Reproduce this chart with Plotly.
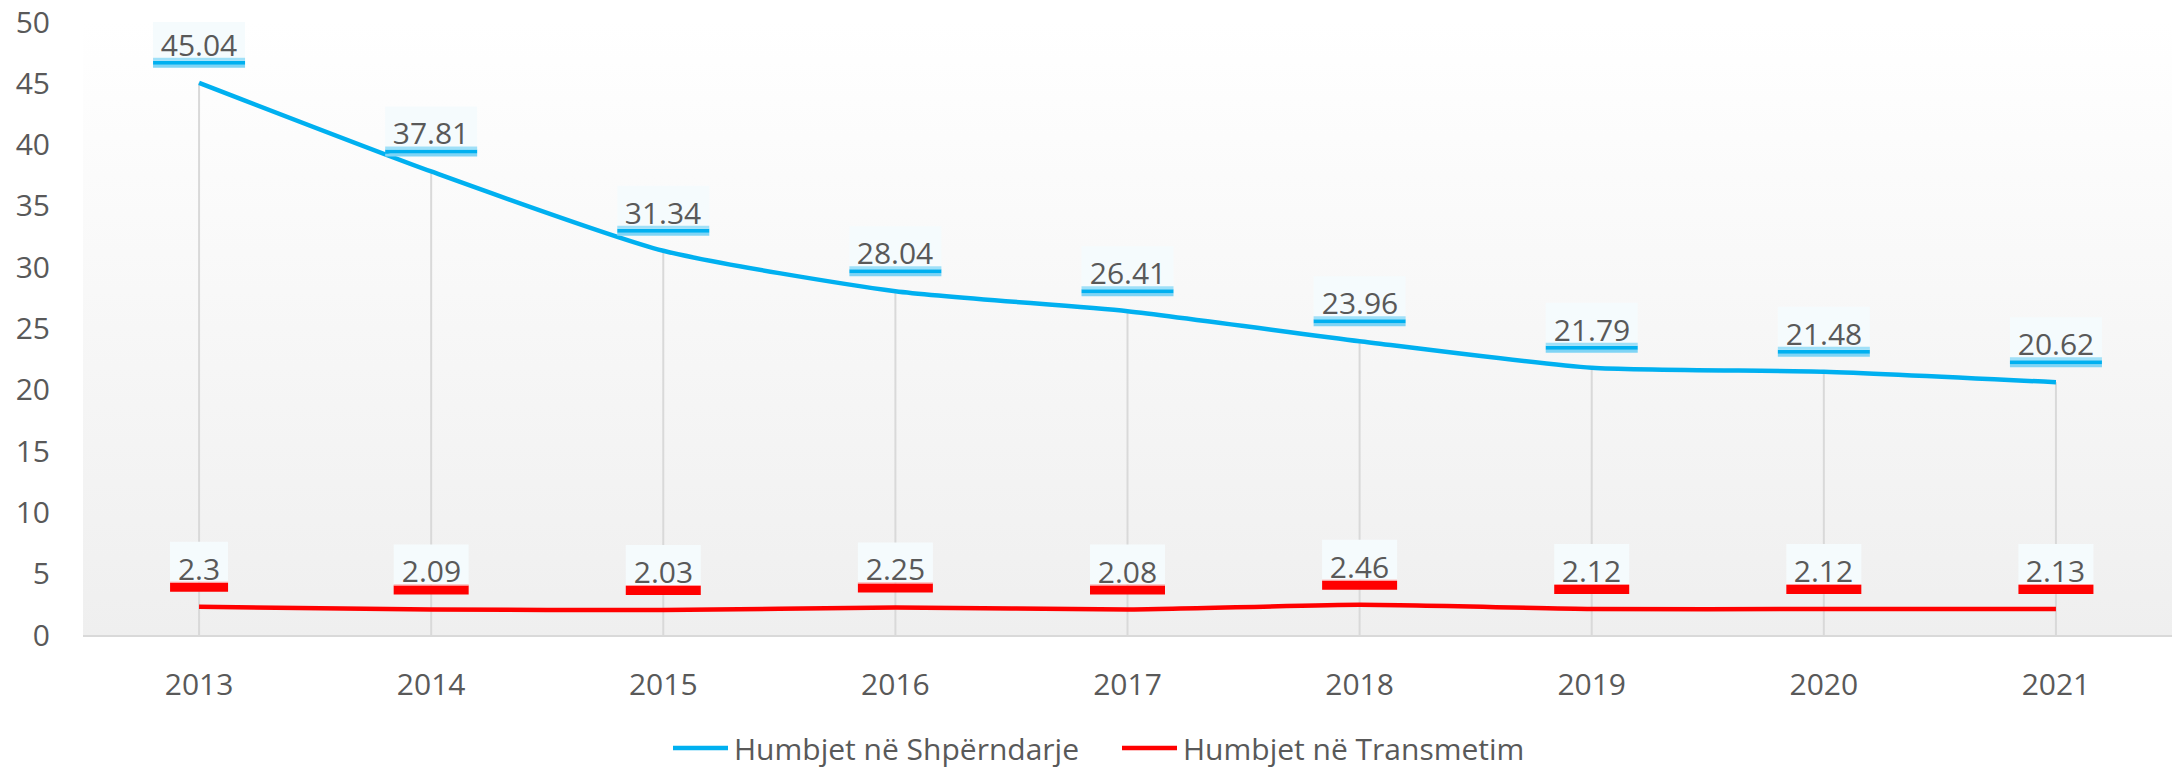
import plotly.graph_objects as go

years = ["2013", "2014", "2015", "2016", "2017", "2018", "2019", "2020", "2021"]
distribution = [45.04, 37.81, 31.34, 28.04, 26.41, 23.96, 21.79, 21.48, 20.62]
transmission = [2.3, 2.09, 2.03, 2.25, 2.08, 2.46, 2.12, 2.12, 2.13]
name_dist = "Humbjet në Shpërndarje"
name_trans = "Humbjet në Transmetim"

BLUE = "#00b0f0"
RED = "#ff0000"
TXT = "#595959"
FONT = "Open Sans"
FS = 30

xi = list(range(len(years)))
fig = go.Figure()

# background gradient of the plot area
fig.add_trace(go.Scatter(
    x=[-0.5, 8.5, 8.5, -0.5, -0.5], y=[0, 0, 50, 50, 0], mode="lines",
    line=dict(width=0), fill="toself",
    fillgradient=dict(type="vertical", colorscale=[[0, "#efefef"], [1, "#ffffff"]]),
    hoverinfo="skip", showlegend=False))

# drop lines
dx, dy = [], []
for i, v in zip(xi, distribution):
    dx += [i, i, None]
    dy += [0, v, None]
fig.add_trace(go.Scatter(x=dx, y=dy, mode="lines", line=dict(color="#d9d9d9", width=2),
                         hoverinfo="skip", showlegend=False))

fig.add_trace(go.Scatter(x=xi, y=distribution, mode="lines", name=name_dist, showlegend=False,
                         line=dict(color=BLUE, width=4.5, shape="spline", smoothing=0.6)))
fig.add_trace(go.Scatter(x=xi, y=transmission, mode="lines", name=name_trans, showlegend=False,
                         line=dict(color=RED, width=4.5, shape="spline", smoothing=0.6)))

def box_width(s):
    return sum(8 if c == "." else 17 for c in s) + 16

shapes = []
annotations = []
for series, stripes in ((distribution, [(15, 18, "#7fd4f5"), (18, 22, BLUE), (22, 25, "#9fe0f8")]),
                        (transmission, [(15, 24, RED), (24, 25, "#ff9b9b")])):
    for i, v in zip(xi, series):
        s = f"{v:g}"
        w = box_width(s)
        shapes.append(dict(type="rect", xref="x", yref="y", xsizemode="pixel", ysizemode="pixel",
                           xanchor=i, yanchor=v, x0=-w / 2, x1=w / 2, y0=25, y1=65,
                           fillcolor="#f5fbfd", line=dict(width=0), layer="above"))
        for y0, y1, col in stripes:
            shapes.append(dict(type="rect", xref="x", yref="y", xsizemode="pixel", ysizemode="pixel",
                               xanchor=i, yanchor=v, x0=-w / 2, x1=w / 2, y0=y0, y1=y1,
                               fillcolor=col, line=dict(width=0), layer="above"))
        annotations.append(dict(x=i, y=v, xref="x", yref="y", text=s, showarrow=False,
                                yanchor="bottom", yshift=17, width=w, height=40,
                                borderpad=0, valign="bottom",
                                font=dict(family=FONT, size=FS, color=TXT)))

# manual legend (paper coordinates)
PL, PW, PB, PH = 83, 2089, 635, 613
def px(x):
    return (x - PL) / PW
def py(y):
    return (PB - y) / PH
legend_y = 748
for name, col, lx in ((name_dist, BLUE, 673), (name_trans, RED, 1122)):
    shapes.append(dict(type="line", xref="paper", yref="paper",
                       x0=px(lx), x1=px(lx + 55), y0=py(legend_y), y1=py(legend_y),
                       line=dict(color=col, width=4.5)))
    annotations.append(dict(x=px(lx + 59), y=py(legend_y), xref="paper", yref="paper",
                            text=name, showarrow=False, xanchor="left", yanchor="middle",
                            font=dict(family=FONT, size=FS, color=TXT)))

fig.update_layout(
    width=2177, height=770,
    margin=dict(l=83, r=5, t=22, b=135, autoexpand=False),
    paper_bgcolor="white", plot_bgcolor="white",
    font=dict(family=FONT, size=FS, color=TXT),
    shapes=shapes, annotations=annotations,
    showlegend=False,
    hovermode=False,
)
fig.update_xaxes(range=[-0.5, 8.5], tickvals=xi, ticktext=years, showgrid=False, zeroline=False,
                 showline=True, linecolor="#d9d9d9", linewidth=2, ticks="", ticklabelstandoff=22,
                 automargin=False, tickfont=dict(family=FONT, size=FS, color=TXT))
fig.update_yaxes(range=[0, 50], dtick=5, showgrid=False, zeroline=False, showline=False, ticks="",
                 ticklabelstandoff=32, automargin=False,
                 tickfont=dict(family=FONT, size=FS, color=TXT))

fig.write_html("out.html", config={"displayModeBar": False},
               post_script="document.body.style.margin='0';document.body.style.overflow='hidden';")
